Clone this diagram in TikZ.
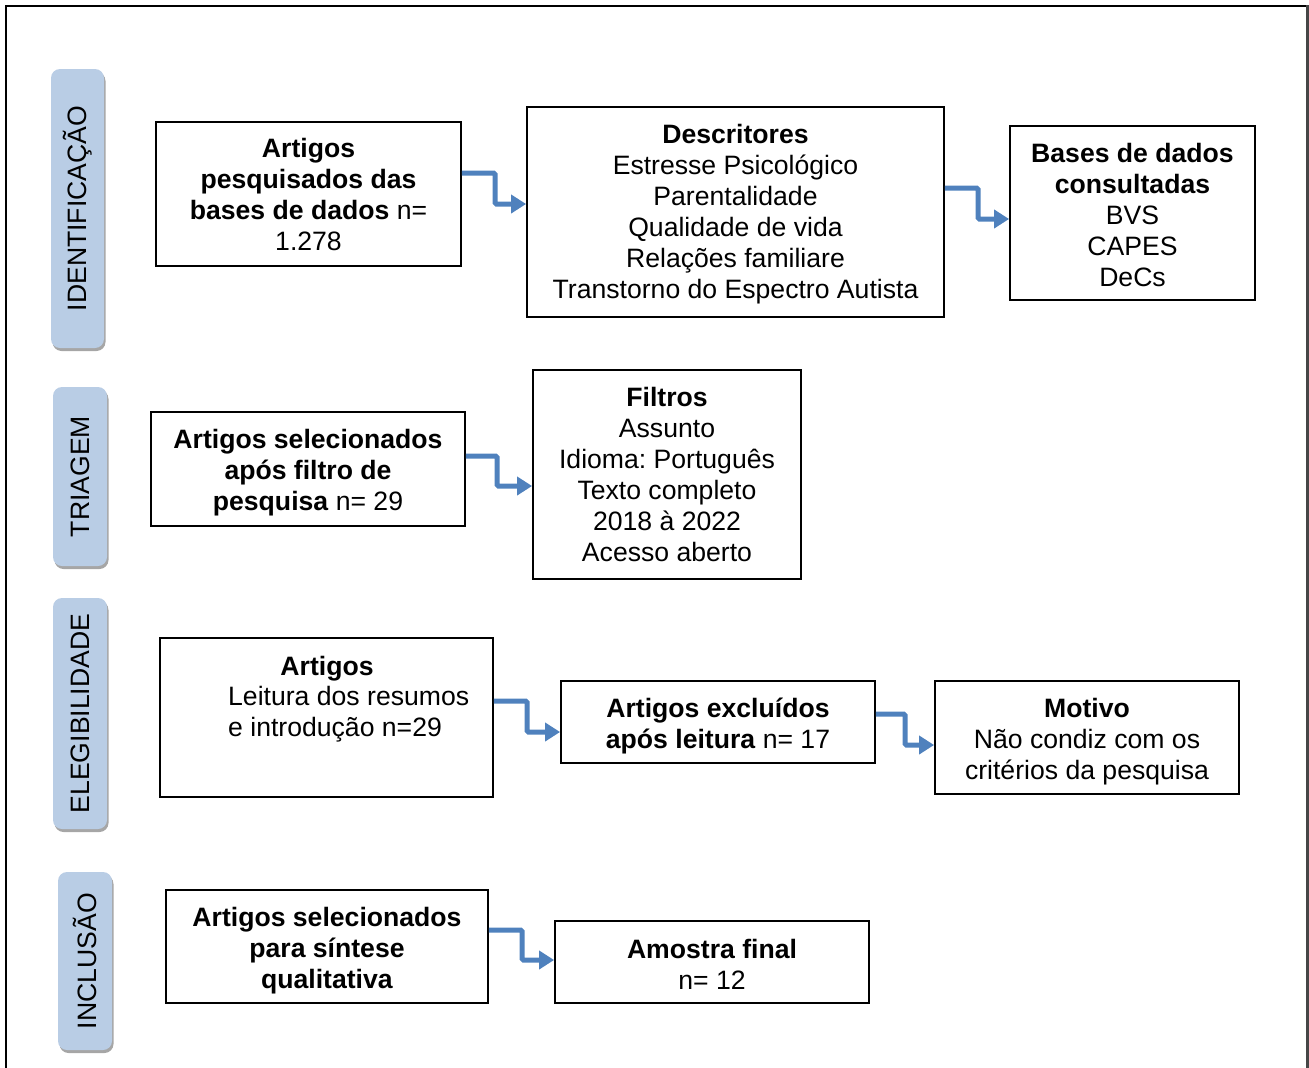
\documentclass[tikz,border=0pt]{standalone}
\usepackage{fontspec}
\setmainfont{Liberation Sans}
\frenchspacing
\usetikzlibrary{arrows.meta,shadows}
\definecolor{phasefill}{RGB}{185,205,229}
\definecolor{connblue}{RGB}{79,129,189}
\definecolor{framegray}{RGB}{70,70,70}
\tikzset{
  txt/.style={inner sep=0pt, align=center, font=\fontsize{26.6}{31}\selectfont},
  box/.style={draw=black, line width=1.8pt, inner sep=0pt},
  phasebar/.style={fill=phasefill, draw=none, rounded corners=9pt, inner sep=0pt,
    drop shadow={shadow xshift=1.5pt, shadow yshift=-3pt, opacity=0.35, fill=black}},
  phasetxt/.style={txt, rotate=90},
  conn/.style={draw=connblue, line width=5pt, rounded corners=1.5pt,
    -{Triangle[length=15pt,width=18pt]}}
}
\begin{document}
\begin{tikzpicture}[x=1pt,y=-1pt]
\useasboundingbox (0,0) rectangle (1309,1068);
% outer frame
\draw[line width=1.3pt] (6,1090) -- (6,6) -- (1306,6);
\draw[line width=3pt, draw=framegray] (1307.5,5.4) -- (1307.5,1090);

% phase bars
\node[phasebar, minimum width=53pt, minimum height=279pt] (p1) at (77.5,208.5) {};
\node[phasetxt] (p1t) at (p1.center) {IDENTIFICAÇÃO};
\node[phasebar, minimum width=54pt, minimum height=179pt] (p2) at (80,476.5) {};
\node[phasetxt] (p2t) at (p2.center) {TRIAGEM};
\node[phasebar, minimum width=54pt, minimum height=231pt] (p3) at (80,713.5) {};
\node[phasetxt] (p3t) at (p3.center) {ELEGIBILIDADE};
\node[phasebar, minimum width=54pt, minimum height=178pt] (p4) at (85,961) {};
\node[phasetxt] (p4t) at (p4.center) {INCLUSÃO};

% boxes
\node[box, minimum width=305pt, minimum height=144pt] (a1) at (308.5,194) {};
\node[txt, yshift=-0.5pt] (a1t) at (a1.center)
  {\textbf{Artigos}\\\textbf{pesquisados das}\\\textbf{bases de dados} n=\\1.278};
\node[box, minimum width=417pt, minimum height=210pt] (a2) at (735.5,212) {};
\node[txt, yshift=-2pt] (a2t) at (a2.center)
  {\textbf{Descritores}\\Estresse Psicológico\\Parentalidade\\Qualidade de vida\\Relações familiare\\Transtorno do Espectro Autista};
\node[box, minimum width=245pt, minimum height=174pt] (a3) at (1132.5,213) {};
\node[txt, yshift=-1.5pt] (a3t) at (a3.center)
  {\textbf{Bases de dados}\\\textbf{consultadas}\\BVS\\CAPES\\DeCs};

\node[box, minimum width=314pt, minimum height=114pt] (b1) at (308,469) {};
\node[txt, yshift=-4pt] (b1t) at (b1.center)
  {\textbf{Artigos selecionados}\\\textbf{após filtro de}\\\textbf{pesquisa} n= 29};
\node[box, minimum width=268pt, minimum height=209pt] (b2) at (667,474.5) {};
\node[txt] (b2t) at (b2.center)
  {\textbf{Filtros}\\Assunto\\Idioma: Português\\Texto completo\\2018 à 2022\\Acesso aberto};

\node[box, minimum width=333pt, minimum height=159pt] (c1) at (326.5,717.5) {};
\node[txt] (c1h) at (327,669) {\textbf{Artigos}};
\node[txt, anchor=west, align=left] (c1t) at (228,714.5) {Leitura dos resumos\\e introdução n=29};
\node[box, minimum width=314pt, minimum height=82pt] (c2) at (718,722) {};
\node[txt, yshift=-4pt] (c2t) at (c2.center)
  {\textbf{Artigos excluídos}\\\textbf{após leitura} n= 17};
\node[box, minimum width=304pt, minimum height=113pt] (c3) at (1087,737.5) {};
\node[txt, yshift=-4pt] (c3t) at (c3.center)
  {\textbf{Motivo}\\Não condiz com os\\critérios da pesquisa};

\node[box, minimum width=322pt, minimum height=113pt] (d1) at (327,946.5) {};
\node[txt, yshift=-4pt] (d1t) at (d1.center)
  {\textbf{Artigos selecionados}\\\textbf{para síntese}\\\textbf{qualitativa}};
\node[box, minimum width=314pt, minimum height=82pt] (d2) at (712,962) {};
\node[txt, yshift=-2pt] (d2t) at (d2.center)
  {\textbf{Amostra final}\\n= 12};

% connectors
\draw[conn] (a1.east |- 0,173) -- (495,173) -- (495,204) -- (a2.west |- 0,204);
\draw[conn] (a2.east |- 0,188) -- (978,188) -- (978,219) -- (a3.west |- 0,219);
\draw[conn] (b1.east |- 0,456) -- (497,456) -- (497,486) -- (b2.west |- 0,486);
\draw[conn] (c1.east |- 0,701) -- (527,701) -- (527,732) -- (c2.west |- 0,732);
\draw[conn] (c2.east |- 0,714) -- (905,714) -- (905,745) -- (c3.west |- 0,745);
\draw[conn] (d1.east |- 0,930) -- (522,930) -- (522,960) -- (d2.west |- 0,960);
\end{tikzpicture}
\end{document}
